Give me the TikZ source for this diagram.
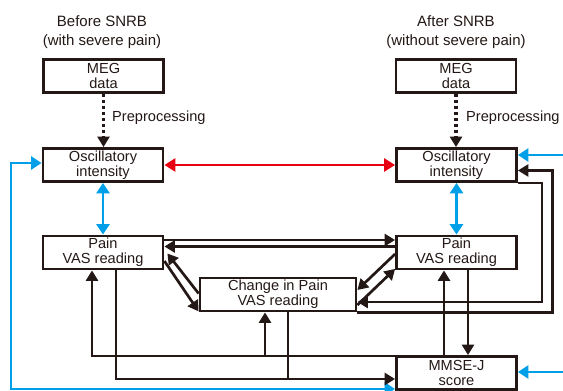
\documentclass[tikz,border=0pt]{standalone}
\usepackage{fontspec}
\setmainfont{Liberation Sans}
\usetikzlibrary{arrows.meta,calc}
\definecolor{ink}{RGB}{35,24,21}
\definecolor{redarr}{RGB}{230,0,18}
\definecolor{bluearr}{RGB}{0,160,233}
\tikzset{
  box/.style={draw=ink, line width=2.8pt, minimum width=120pt, minimum height=33pt, inner sep=0pt, align=center, text=ink, font=\fontsize{14.6}{14.8}\selectfont},
  title/.style={align=center, text=ink, font=\fontsize{15}{19}\selectfont},
  lbl/.style={text=ink, font=\fontsize{14.6}{14.8}\selectfont, inner sep=0pt},
  arr/.style={draw=ink, line width=2.7pt, -{Triangle[length=10.5pt,width=12pt]}},
  plain/.style={draw=ink, line width=2.7pt},
  redline/.style={draw=redarr, line width=2.7pt, {Triangle[length=11pt,width=13pt]}-{Triangle[length=11pt,width=13pt]}},
  blueboth/.style={draw=bluearr, line width=2.7pt, {Triangle[length=10.5pt,width=13pt]}-{Triangle[length=10.5pt,width=13pt]}},
  blueone/.style={draw=bluearr, line width=2.7pt, -{Triangle[length=10.5pt,width=13pt]}},
  dotarr/.style={draw=ink, line width=3.2pt, dash pattern=on 3pt off 3pt, -{Triangle[length=10.5pt,width=12pt]}}
}
\begin{document}
\begin{tikzpicture}[x=1pt,y=1pt]
\useasboundingbox (0,0) rectangle (563,391);
% titles
\node[title] (tL) at (102,358.5) {Before SNRB\\(with severe pain)};
\node[title] (tR) at (456,358.5) {After SNRB\\(without severe pain)};
% boxes
\node[box] (MEGL) at (103.5,315) {MEG\\data};
\node[box] (MEGR) at (456,315) {MEG\\data};
\node[box] (OscL) at (103,226) {Oscillatory\\intensity};
\node[box] (OscR) at (456.5,226) {Oscillatory\\intensity};
\node[box] (PainL) at (103,138.5) {Pain\\VAS reading};
\node[box] (PainR) at (456.5,138.5) {Pain\\VAS reading};
\node[box, minimum width=156pt] (Chg) at (278,96.5) {Change in Pain\\VAS reading};
\node[box] (MMSE) at (456.5,18) {MMSE-J\\score};
% preprocessing
\draw[dotarr] (MEGL.south) -- (MEGL.south |- OscL.north);
\draw[dotarr] (MEGR.south) -- (MEGR.south |- OscR.north);
\node[lbl, anchor=west] (ppL) at (112,273) {Preprocessing};
\node[lbl, anchor=west] (ppR) at (466,273) {Preprocessing};
% red
\draw[redline] (OscL.east) -- (OscR.west);
% blue vertical
\draw[blueboth] (OscL.south) -- (PainL.north);
\draw[blueboth] (OscR.south) -- (PainR.north);
% blue inputs from right
\coordinate (rin1) at (563,236);
\coordinate (rin2) at (563,19);
\draw[blueone] (rin1) -- (rin1 -| OscR.east);
\draw[blueone] (rin2) -- (rin2 -| MMSE.east);
% blue left loop
\coordinate (bl) at (11,2);
\draw[blueboth] ([yshift=2pt]OscL.west) -| (bl) -- (bl -| MMSE.west);
% PainL <-> PainR
\draw[arr] ([yshift=12.5pt]PainL.east) -- ([yshift=12.5pt]PainR.west);
\draw[arr] ([yshift=6pt]PainR.west) -- ([yshift=6pt]PainL.east);
% PainL <-> Change
\draw[arr] ([yshift=-8.5pt]PainL.east) -- ([yshift=1pt]Chg.south west);
\draw[arr] ([yshift=1pt]Chg.west) -- ([xshift=3pt,yshift=-1pt]PainL.east);
% PainR <-> Change
\draw[arr] ([yshift=-1.5pt]PainR.west) -- ([yshift=4.5pt]Chg.east);
\draw[arr] ([yshift=-10.5pt]Chg.east) -- ([yshift=1.5pt]PainR.south west);
% OscR -> Change, Change -> OscR
\draw[arr] (OscR.south east) -- ++(24pt,0) |- ([yshift=-7.5pt]Chg.east);
\draw[arr] (Chg.south east) -- ++(195pt,0) |- ([yshift=-5.5pt]OscR.east);
% PainR <-> MMSE
\draw[arr] ([xshift=-12.5pt]MMSE.north) -- ([xshift=-12.5pt]PainR.south);
\draw[arr] ([xshift=11.5pt]PainR.south) -- ([xshift=11.5pt]MMSE.north);
% MMSE -> PainL, Change
\coordinate (mtop) at ([yshift=-1pt]MMSE.north west);
\coordinate (pl1) at ([xshift=-11pt]PainL.south);
\coordinate (c1) at ([xshift=-13pt]Chg.south);
\draw[arr] (mtop) -| (pl1);
\draw[arr] (c1 |- mtop) -- (c1);
% PainL, Change -> MMSE
\coordinate (pl2) at ([xshift=13pt]PainL.south);
\coordinate (mlow) at ([yshift=-6pt]MMSE.west);
\coordinate (c2) at ([xshift=10pt]Chg.south);
\draw[arr] (pl2) |- (mlow);
\draw[plain] (c2) -- (c2 |- mlow);
\end{tikzpicture}
\end{document}
